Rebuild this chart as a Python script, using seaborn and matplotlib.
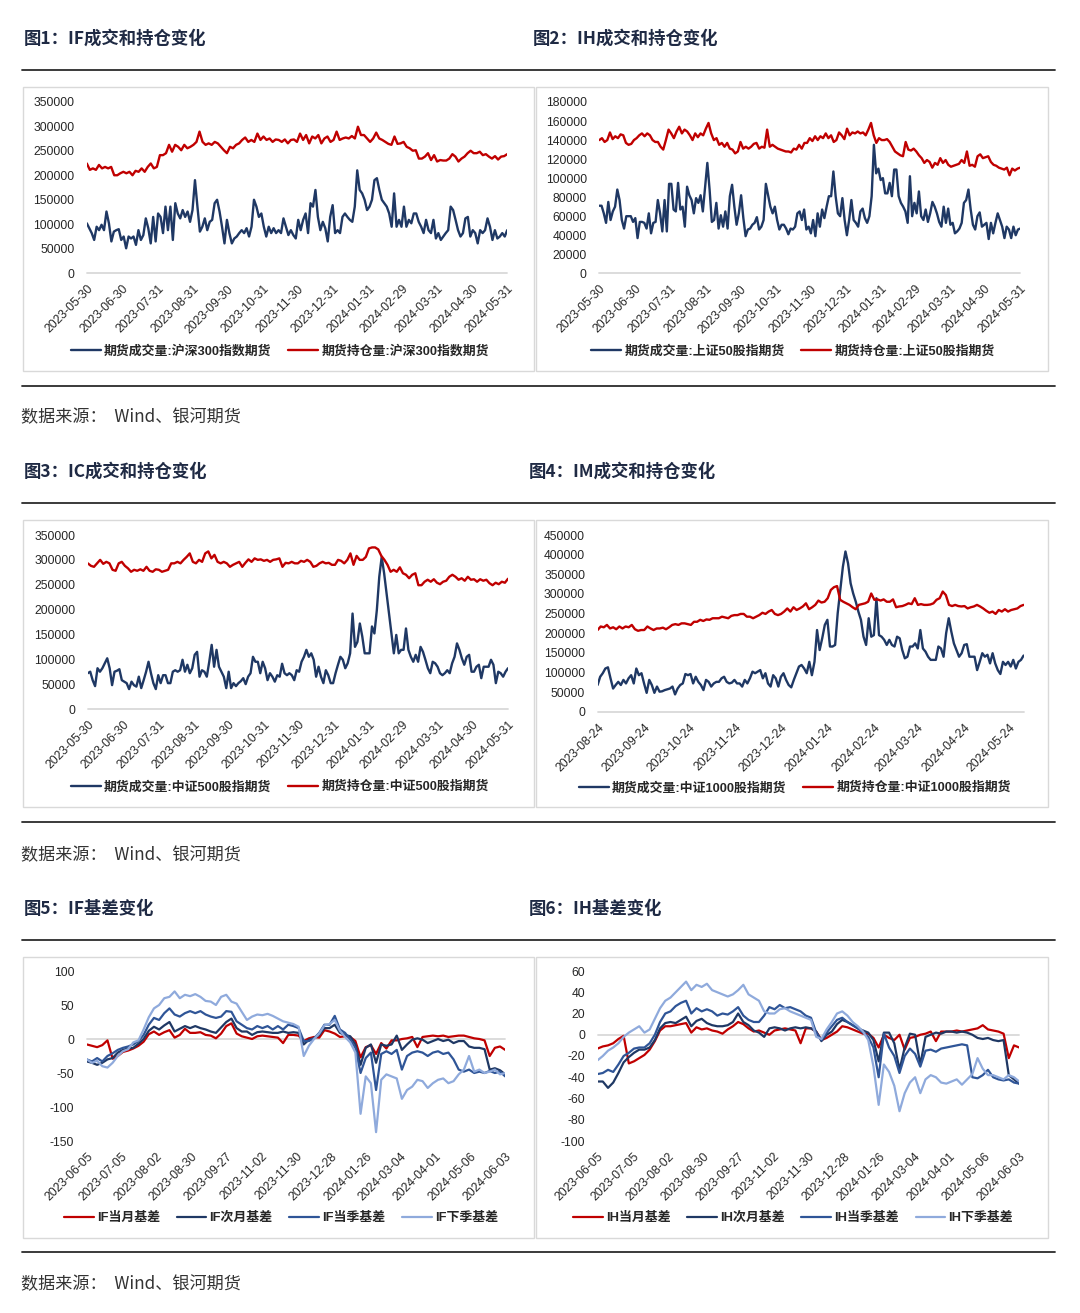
import numpy as np
import pandas as pd
import matplotlib
matplotlib.use("Agg")
import matplotlib.pyplot as plt
import seaborn as sns
from matplotlib.patches import Rectangle
from matplotlib.lines import Line2D
from matplotlib.font_manager import FontProperties

# 成交量 / 持仓量（单位：千手）
if_vol = [102, 92, 82, 68, 95, 88, 99, 88, 126, 102, 65, 85, 88, 90, 68, 75, 51, 75, 71, 75,
          58, 88, 68, 78, 112, 92, 61, 115, 65, 122, 115, 82, 136, 88, 136, 68, 143, 122, 112, 129,
          115, 126, 105, 129, 190, 136, 85, 95, 112, 88, 105, 109, 143, 150, 126, 95, 61, 109, 82, 61,
          71, 75, 82, 88, 82, 92, 75, 95, 150, 136, 115, 122, 95, 75, 95, 82, 92, 82, 88, 82,
          112, 95, 78, 88, 78, 71, 109, 88, 109, 122, 82, 143, 136, 170, 115, 88, 105, 92, 65, 115,
          139, 82, 88, 82, 115, 122, 115, 109, 105, 136, 210, 170, 163, 150, 129, 136, 150, 190, 194, 170,
          150, 143, 136, 122, 95, 163, 95, 109, 95, 136, 95, 109, 102, 122, 122, 105, 95, 82, 109, 88,
          82, 109, 71, 82, 68, 75, 82, 88, 136, 129, 109, 88, 75, 82, 112, 115, 75, 88, 82, 61,
          88, 82, 88, 112, 95, 68, 88, 71, 75, 82, 75, 88]
if_oi = [224, 211, 214, 211, 221, 214, 217, 214, 217, 200, 200, 204, 207, 204, 207, 200, 209, 207, 214, 207,
         217, 224, 214, 217, 241, 241, 245, 262, 248, 262, 258, 251, 262, 255, 258, 262, 268, 289, 268, 262,
         265, 262, 268, 265, 258, 251, 245, 258, 255, 262, 265, 272, 277, 268, 272, 268, 285, 272, 279, 272,
         275, 268, 273, 272, 268, 273, 265, 272, 273, 268, 285, 272, 282, 265, 279, 275, 282, 265, 275, 279,
         268, 272, 289, 272, 275, 277, 275, 280, 275, 299, 282, 282, 275, 268, 275, 287, 275, 272, 268, 264,
         262, 279, 264, 265, 268, 258, 255, 250, 251, 234, 234, 238, 245, 231, 241, 228, 231, 230, 230, 234,
         243, 238, 228, 234, 238, 245, 250, 245, 245, 248, 241, 243, 238, 234, 239, 232, 238, 239, 243]

ih_vol = [71, 71, 63, 53, 75, 56, 65, 70, 88, 77, 56, 47, 60, 60, 60, 54, 58, 37, 54, 54,
          53, 47, 63, 42, 53, 54, 77, 63, 44, 77, 44, 94, 94, 67, 65, 95, 67, 70, 49, 91,
          82, 77, 63, 79, 74, 82, 65, 91, 116, 88, 54, 56, 74, 47, 61, 49, 65, 47, 81, 93,
          70, 51, 63, 82, 58, 39, 46, 47, 51, 53, 59, 46, 49, 56, 94, 82, 70, 63, 70, 56,
          46, 51, 51, 47, 41, 47, 46, 49, 63, 65, 56, 67, 46, 49, 42, 56, 39, 63, 49, 67,
          58, 70, 81, 81, 107, 81, 63, 60, 79, 56, 40, 56, 77, 56, 53, 49, 65, 68, 58, 53,
          60, 81, 135, 105, 110, 98, 100, 84, 84, 95, 81, 109, 109, 81, 74, 70, 65, 53, 102, 60,
          74, 63, 86, 60, 56, 67, 54, 63, 75, 70, 63, 54, 49, 70, 53, 68, 51, 53, 42, 44,
          47, 53, 74, 77, 88, 67, 51, 46, 60, 64, 49, 51, 53, 36, 53, 42, 53, 63, 56, 49,
          37, 49, 46, 37, 49, 40, 46, 47]
ih_oi = [140, 142, 138, 140, 148, 141, 144, 142, 146, 145, 137, 135, 136, 140, 142, 145, 147, 144, 147, 145,
         140, 138, 138, 133, 130, 140, 151, 147, 142, 149, 154, 147, 151, 149, 145, 140, 147, 143, 147, 145,
         152, 158, 147, 140, 142, 135, 137, 133, 137, 131, 130, 126, 128, 138, 131, 133, 131, 133, 136, 137,
         131, 133, 132, 151, 133, 135, 133, 131, 130, 129, 128, 128, 127, 131, 130, 135, 131, 137, 137, 142,
         139, 144, 140, 144, 142, 147, 142, 145, 138, 140, 148, 145, 141, 152, 145, 148, 147, 149, 147, 148,
         145, 151, 158, 145, 137, 142, 140, 140, 141, 138, 133, 128, 126, 124, 123, 138, 130, 129, 131, 128,
         124, 121, 116, 119, 117, 111, 116, 114, 121, 116, 119, 114, 112, 113, 114, 115, 119, 116, 128, 113,
         114, 112, 123, 125, 121, 122, 123, 117, 114, 113, 111, 110, 109, 111, 103, 110, 108, 110, 111]

ic_vol = [72, 75, 58, 46, 82, 75, 82, 92, 102, 82, 48, 75, 77, 80, 58, 55, 52, 40, 55, 48,
          45, 65, 42, 58, 75, 95, 72, 52, 40, 68, 52, 68, 68, 52, 52, 75, 78, 75, 78, 99,
          75, 89, 72, 82, 109, 115, 65, 78, 75, 65, 95, 129, 85, 119, 85, 75, 65, 42, 75, 42,
          52, 46, 52, 56, 62, 50, 65, 72, 105, 95, 95, 72, 95, 82, 58, 72, 65, 55, 68, 65,
          91, 72, 68, 72, 68, 58, 78, 75, 95, 105, 119, 105, 112, 99, 65, 85, 65, 52, 78, 68,
          52, 52, 72, 89, 105, 99, 82, 92, 112, 192, 125, 135, 172, 146, 112, 112, 112, 166, 152, 199,
          266, 306, 273, 233, 192, 152, 112, 149, 112, 119, 119, 162, 119, 105, 95, 109, 95, 125, 115, 99,
          82, 72, 95, 92, 85, 72, 68, 72, 78, 72, 92, 105, 132, 119, 102, 89, 105, 109, 75, 75,
          85, 89, 62, 85, 85, 85, 99, 89, 52, 75, 72, 65, 75, 82]
ic_oi = [293, 288, 286, 293, 300, 292, 296, 293, 280, 278, 293, 296, 288, 283, 276, 280, 278, 281, 278, 286,
         278, 276, 281, 280, 276, 278, 280, 293, 293, 296, 293, 300, 306, 313, 296, 293, 300, 296, 313, 317,
         303, 310, 296, 293, 296, 293, 286, 290, 293, 296, 286, 294, 301, 296, 303, 300, 301, 298, 300, 296,
         300, 301, 303, 286, 294, 293, 296, 293, 293, 298, 296, 300, 296, 286, 288, 293, 296, 293, 294, 290,
         290, 300, 298, 293, 300, 313, 290, 308, 300, 300, 306, 323, 325, 325, 321, 308, 300, 290, 276, 280,
         276, 285, 273, 270, 263, 270, 273, 249, 249, 256, 260, 256, 261, 254, 251, 256, 258, 266, 270, 266,
         260, 263, 258, 266, 260, 261, 256, 261, 258, 260, 253, 249, 254, 251, 256, 254, 262]

im_vol = [68, 89, 98, 110, 113, 85, 59, 68, 76, 68, 81, 72, 85, 93, 72, 110, 93, 98, 72, 48,
          81, 68, 48, 64, 51, 52, 55, 57, 59, 64, 44, 59, 68, 72, 96, 93, 96, 72, 89, 76,
          68, 55, 81, 76, 64, 72, 76, 76, 85, 89, 76, 72, 74, 81, 72, 72, 64, 81, 72, 85,
          102, 98, 102, 106, 85, 98, 72, 64, 93, 85, 64, 89, 98, 81, 68, 62, 81, 98, 115, 119,
          110, 98, 127, 93, 127, 208, 157, 187, 221, 234, 166, 166, 170, 251, 310, 369, 408, 378, 327, 301,
          280, 255, 234, 191, 170, 238, 191, 195, 289, 195, 191, 183, 170, 183, 170, 166, 191, 187, 157, 136,
          140, 166, 166, 174, 161, 208, 161, 153, 140, 132, 132, 132, 166, 161, 140, 200, 238, 204, 174, 157,
          140, 149, 170, 172, 140, 140, 140, 106, 127, 149, 140, 145, 123, 149, 123, 106, 96, 127, 119, 127,
          115, 132, 110, 127, 132, 143]
im_oi = [208, 217, 215, 221, 212, 215, 210, 217, 212, 217, 215, 221, 210, 206, 208, 208, 217, 212, 208, 212,
         212, 214, 210, 215, 221, 223, 221, 225, 225, 223, 221, 229, 229, 234, 231, 235, 234, 238, 238, 238,
         242, 240, 238, 244, 246, 246, 249, 249, 242, 242, 238, 242, 246, 252, 249, 255, 259, 249, 246, 249,
         255, 263, 255, 266, 259, 263, 268, 276, 261, 266, 272, 283, 278, 280, 289, 310, 317, 320, 285, 280,
         276, 272, 266, 261, 272, 274, 276, 280, 301, 285, 286, 283, 286, 280, 280, 286, 266, 268, 269, 272,
         276, 274, 289, 272, 274, 272, 272, 273, 276, 285, 289, 306, 297, 272, 269, 272, 269, 268, 269, 263,
         266, 268, 272, 268, 263, 257, 252, 255, 249, 259, 255, 261, 255, 259, 261, 263, 269, 272]

# 基差
if_m1 = [-8, -10, -12, -9, -2, -29, -25, -19, -17, -14, -10, -4, 7, 11, 6, 10, 13, 2, 6, 15,
         9, 9, 10, 6, 5, 1, 8, 19, 23, 8, 4, 2, 0, 4, 5, 4, 3, 2, -6, 6,
         6, 5, -3, 1, 3, 2, 13, 11, 8, 3, 4, 3, -3, -27, -12, -9, -22, -6, -14, -2,
         -2, 0, 1, 3, -12, 3, 4, 5, 4, 5, 3, 4, 5, 5, 3, 1, 0, -2, -25, -13, -11, -16]
if_m2 = [-33, -35, -38, -35, -30, -28, -20, -16, -14, -13, -7, 0, 12, 18, 14, 20, 25, 11, 15, 19,
         16, 19, 16, 14, 11, 9, 17, 25, 30, 16, 11, 11, 6, 10, 11, 10, 9, 9, 11, 9,
         10, 9, -8, -1, 1, 6, 16, 16, 21, 9, 6, 4, -8, -38, -13, -8, -35, -8, -10, -8,
         5, -16, -8, -1, 1, -1, -6, -3, 0, -3, -1, -6, -3, -3, -11, -13, -13, -15, -45, -43, -46, -52]
if_q1 = [-30, -33, -28, -33, -25, -21, -16, -13, -11, -8, -3, 6, 21, 31, 28, 38, 45, 36, 33, 38,
         41, 38, 41, 36, 33, 31, 33, 41, 40, 26, 21, 16, 14, 19, 16, 19, 14, 19, 14, 21,
         19, 16, -3, -3, 1, 9, 21, 21, 34, 14, 9, -1, -13, -50, -28, -20, -75, -22, -18, -22,
         -16, -45, -25, -20, -18, -20, -25, -20, -18, -22, -20, -30, -45, -48, -45, -50, -48, -50, -47, -50, -48, -55]
if_q2 = [-30, -35, -32, -40, -42, -35, -25, -18, -15, -5, -2, 14, 32, 45, 50, 60, 62, 70, 60, 65,
         63, 66, 62, 56, 55, 50, 62, 65, 55, 52, 40, 28, 33, 36, 35, 37, 34, 30, 26, 24,
         22, 18, -25, -10, 0, 8, 20, 22, 28, 12, 3, -5, -20, -110, -55, -65, -137, -60, -52, -55,
         -58, -88, -75, -70, -60, -62, -72, -65, -60, -58, -65, -62, -52, -45, -25, -48, -45, -50, -48, -45, -52, -50]

ih_m1 = [-13, -11, -10, -8, -4, -1, -27, -25, -22, -19, -14, -6, 4, 8, 8, 9, 10, 11, 2, 7,
         5, 6, 4, 3, 1, 5, 8, 12, 10, 6, 3, 4, 2, 0, 4, 5, 6, 5, 4, -8,
         6, 6, 3, -5, -3, 0, 3, 8, 7, 5, 3, 1, 1, -3, -12, 0, -3, -5, 0, -14,
         -3, -2, 0, 1, 3, -6, 3, 3, 3, 4, 3, 4, 5, 6, 9, 5, 4, 3, 1, -22, -10, -12]
ih_m2 = [-44, -44, -50, -45, -36, -26, -21, -17, -14, -14, -12, -5, 6, 11, 12, 11, 14, 17, 8, 13,
         15, 11, 9, 8, 8, 9, 12, 20, 12, 9, 4, 2, -2, 6, 7, 6, 4, 6, 7, 6,
         7, 6, 3, -6, 0, 3, 10, 14, 12, 9, 6, 4, 2, -5, -25, 2, 2, -8, -33, -12,
         1, 0, -28, -2, 0, 2, 1, 3, 3, 2, 3, 2, 0, -3, -4, -3, -5, -6, -5, -38, -42, -46]
ih_q1 = [-37, -36, -33, -35, -28, -20, -17, -13, -12, -12, -8, 0, 12, 20, 22, 27, 30, 32, 20, 25,
         22, 24, 22, 18, 20, 19, 22, 26, 18, 14, 12, 12, 18, 26, 24, 28, 25, 26, 24, 22,
         18, 16, 2, -5, 2, 8, 14, 16, 12, 9, 6, 2, -2, -12, -40, 1, -12, -20, -36, -20,
         -13, -18, -30, -15, -14, -16, -13, -12, -11, -10, -9, -10, -40, -41, -38, -33, -40, -42, -43, -42, -45, -46]
ih_q2 = [-24, -20, -15, -12, -8, -2, 2, 5, 8, 2, 5, 15, 25, 32, 35, 40, 45, 50, 42, 47,
         45, 48, 42, 40, 38, 36, 38, 42, 47, 38, 35, 32, 22, 20, 20, 24, 25, 22, 20, 18,
         16, 14, -2, -4, 5, 12, 20, 22, 18, 12, 8, 3, -5, -30, -66, -28, -35, -48, -72, -55,
         -45, -40, -55, -42, -38, -40, -45, -46, -44, -42, -47, -42, -37, -22, -32, -38, -38, -40, -42, -38, -40, -44]

month_ticks = ["2023-05-30", "2023-06-30", "2023-07-31", "2023-08-31", "2023-09-30", "2023-10-31",
               "2023-11-30", "2023-12-31", "2024-01-31", "2024-02-29", "2024-03-31", "2024-04-30",
               "2024-05-31"]
im_ticks = ["2023-08-24", "2023-09-24", "2023-10-24", "2023-11-24", "2023-12-24", "2024-01-24",
            "2024-02-24", "2024-03-24", "2024-04-24", "2024-05-24"]
basis_ticks = ["2023-06-05", "2023-07-05", "2023-08-02", "2023-08-30", "2023-09-27", "2023-11-02",
               "2023-11-30", "2023-12-28", "2024-01-26", "2024-03-04", "2024-04-01", "2024-05-06",
               "2024-06-03"]

BLUE = "#1f3864"
RED = "#c00000"
MID = "#2f5597"
LIGHT = "#8faadc"
TXT = "#262626"

sns.set_theme(style="white")
plt.rcParams["font.family"] = ["Liberation Sans", "Noto Sans CJK SC", "DejaVu Sans"]
plt.rcParams["axes.unicode_minus"] = False

W, H = 1080, 1313
fig = plt.figure(figsize=(W / 100, H / 100), dpi=100)


def axes_px(left, right, top, bottom):
    return fig.add_axes([left / W, 1 - bottom / H, (right - left) / W, (bottom - top) / H])


def rule(y):
    fig.add_artist(Line2D([22 / W, 1055 / W], [1 - y / H, 1 - y / H], color="#2b2b2b", lw=1.3))


def frame(x0, x1, y0, y1):
    fig.add_artist(Rectangle((x0 / W, 1 - y1 / H), (x1 - x0) / W, (y1 - y0) / H,
                             fill=False, ec="#d9d9d9", lw=1.0))


def title(x, y, s):
    fig.text(x / W, 1 - y / H, s, ha="left", va="center", fontsize=12.5, fontweight="bold",
             color="#1f2a44", family=["Noto Sans CJK SC", "DejaVu Sans"])


def source(y):
    fig.text(21 / W, 1 - y / H, "数据来源：  Wind、银河期货", ha="left", va="center", fontsize=12.3,
             color="#333333", family=["Noto Sans CJK SC", "DejaVu Sans"])


def finish(ax, yticks, ylabels, legend_xy, ncol):
    for sp in ax.spines.values():
        sp.set_visible(False)
    ax.axhline(0, color="#d9d9d9", lw=1.3, zorder=0, clip_on=False)
    ax.set_yticks(yticks)
    ax.set_yticklabels(ylabels)
    ax.tick_params(axis="both", length=0, labelsize=8.7, labelcolor=TXT)
    ax.tick_params(axis="y", pad=9)
    ax.tick_params(axis="x", pad=7)
    for lab in ax.get_xticklabels():
        lab.set_rotation(45)
        lab.set_ha("right")
        lab.set_va("top")
        lab.set_rotation_mode("anchor")
    ax.set_xlabel("")
    ax.set_ylabel("")
    ax.grid(False)
    h, l = ax.get_legend_handles_labels()
    ax.legend(h, l, loc="center", bbox_to_anchor=(legend_xy[0] / W, 1 - legend_xy[1] / H),
              bbox_transform=fig.transFigure, ncol=ncol, frameon=False,
              prop=FontProperties(family=["Liberation Sans", "Noto Sans CJK SC"], weight="bold", size=9.3),
              handlelength=2.3, handletextpad=0.25, columnspacing=1.3)


def volume_panel(rect, start, end, vol, oi, ticks, ymax, step, names, legend_xy):
    ax = axes_px(*rect)
    d_vol = pd.date_range(start, end, periods=len(vol))
    d_oi = pd.date_range(start, end, periods=len(oi))
    sns.lineplot(x=d_vol, y=np.array(vol) * 1000, ax=ax, color=BLUE, lw=1.7, label=names[0])
    sns.lineplot(x=d_oi, y=np.array(oi) * 1000, ax=ax, color=RED, lw=1.7, label=names[1])
    ax.set_xlim(pd.Timestamp(start), pd.Timestamp(end))
    ax.set_ylim(0, ymax)
    ax.set_xticks(pd.to_datetime(ticks))
    ax.set_xticklabels(ticks)
    yt = np.arange(0, ymax + 1, step)
    finish(ax, yt, [str(v) for v in yt], legend_xy, 2)


def basis_panel(rect, series, names, colors, ylo, yhi, step, legend_xy):
    ax = axes_px(*rect)
    n = len(series[0])
    for s, nm, c in zip(series, names, colors):
        sns.lineplot(x=np.arange(len(s)), y=s, ax=ax, color=c, lw=1.6, label=nm)
    ax.set_xlim(0, n - 1)
    ax.set_ylim(ylo, yhi)
    ax.set_xticks(np.linspace(0, n - 1, len(basis_ticks)))
    ax.set_xticklabels(basis_ticks)
    yt = np.arange(ylo, yhi + 1, step)
    finish(ax, yt, [str(v) for v in yt], legend_xy, 4)


# 标题、分隔线、来源
title(24, 39, "图1：IF成交和持仓变化")
title(533, 39, "图2：IH成交和持仓变化")
title(24, 472, "图3：IC成交和持仓变化")
title(529, 472, "图4：IM成交和持仓变化")
title(24, 909, "图5：IF基差变化")
title(529, 909, "图6：IH基差变化")
for y in [70, 385.5, 503, 822, 940, 1252]:
    rule(y)
for y in [417, 855, 1284]:
    source(y)
for y0, y1 in [(87, 371), (520, 807), (957, 1238)]:
    frame(23.4, 533.5, y0, y1)
    frame(535.5, 1047.5, y0, y1)

volume_panel((86.8, 507.2, 101.7, 273.3), "2023-05-30", "2024-05-31", if_vol, if_oi, month_ticks,
             350000, 50000, ["期货成交量:沪深300指数期货", "期货持仓量:沪深300指数期货"], (280, 351))
volume_panel((599.3, 1020.2, 102, 273.3), "2023-05-30", "2024-05-31", ih_vol, ih_oi, month_ticks,
             180000, 20000, ["期货成交量:上证50股指期货", "期货持仓量:上证50股指期货"], (793, 351.5))
volume_panel((87.8, 508, 535, 709), "2023-05-30", "2024-05-31", ic_vol, ic_oi, month_ticks,
             350000, 50000, ["期货成交量:中证500股指期货", "期货持仓量:中证500股指期货"], (280, 787))
volume_panel((597.6, 1023.6, 535, 711.7), "2023-08-24", "2024-06-03", im_vol, im_oi, im_ticks,
             450000, 50000, ["期货成交量:中证1000股指期货", "期货持仓量:中证1000股指期货"], (795, 788))

basis_panel((86.8, 505.2, 971, 1141), [if_m1, if_m2, if_q1, if_q2],
            ["IF当月基差", "IF次月基差", "IF当季基差", "IF下季基差"], [RED, BLUE, MID, LIGHT],
            -150, 100, 50, (281, 1218))
basis_panel((597.6, 1019.2, 971, 1141), [ih_m1, ih_m2, ih_q1, ih_q2],
            ["IH当月基差", "IH次月基差", "IH当季基差", "IH下季基差"], [RED, BLUE, MID, LIGHT],
            -100, 60, 20, (793, 1218))

fig.savefig("out.png", dpi=100, facecolor="white")
